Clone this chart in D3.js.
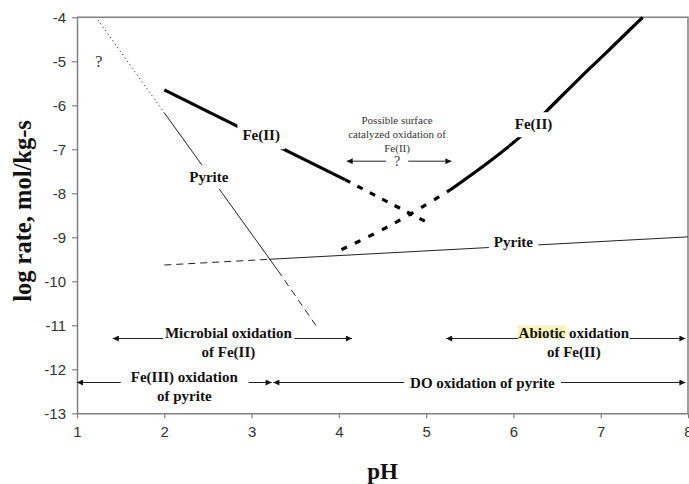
<!DOCTYPE html>
<html>
<head>
<meta charset="utf-8">
<script src="https://cdn.jsdelivr.net/npm/d3@7"></script>
<style>
  body { margin: 0; background: #fff; }
  svg { display: block; font-family: "Liberation Serif", "Times New Roman", serif; }
  .thin { fill: none; stroke: #222; stroke-width: 1; }
  .thick { fill: none; stroke: #000; stroke-width: 3.2; }
  .lbl { font-weight: bold; font-size: 15px; fill: #111; }
  .note { font-size: 11px; fill: #333; }
  .rng { stroke: #222; stroke-width: 1; }
</style>
</head>
<body>
<svg id="chart" width="689" height="484"></svg>
<script>
const xTicks = [1, 2, 3, 4, 5, 6, 7, 8];
const yTicks = [-4, -5, -6, -7, -8, -9, -10, -11, -12, -13];

// pyrite oxidation by Fe(III), low pH branch
const pyriteAcidPH  = [1.24, 2.0, 3.3, 3.75];
const pyriteAcidLog = [-4.06, -6.17, -9.75, -11.04];
// pyrite oxidation by DO
const pyriteDOPH  = [2.0, 3.2, 8.0];
const pyriteDOLog = [-9.63, -9.5, -8.99];
// Fe(II) microbial oxidation
const feMicroPH  = [2.0, 4.07, 5.0];
const feMicroLog = [-5.65, -7.69, -8.65];
// Fe(II) abiotic oxidation
const feAbioPH  = [4.03, 4.6, 5.27, 5.73, 6.07, 6.38, 6.76, 7.07, 7.48];
const feAbioLog = [-9.28, -8.72, -7.93, -7.27, -6.73, -6.13, -5.38, -4.79, -4.0];

// ranges: [from pH, to pH, log rate]
const microbialRange = [1.41, 4.15, -11.3];
const abioticRange   = [5.23, 7.97, -11.3];
const fe3Range       = [1.0, 3.23, -12.3];
const doRange        = [3.25, 7.97, -12.3];
const surfaceRange   = [4.09, 5.29, -7.27];

// label anchors: [pH, log rate]
const pyriteSteepLabel = [2.51, -7.63];
const pyriteFlatLabel  = [6.0, -9.1];
const feLeftLabel      = [3.11, -6.68];
const feRightLabel     = [6.23, -6.43];
const unknownMark      = [1.25, -5.0];

const svg = d3.select('#chart');
const x = d3.scaleLinear().domain([1, 8]).range([77, 688]);
const y = d3.scaleLinear().domain([-13, -4]).range([413.3, 17.3]);

// arrow heads
const defs = svg.append('defs');
defs.append('marker')
    .attr('id', 'arr')
    .attr('viewBox', '0 0 10 10')
    .attr('refX', 10).attr('refY', 5)
    .attr('markerUnits', 'userSpaceOnUse')
    .attr('markerWidth', 7).attr('markerHeight', 6)
    .attr('orient', 'auto-start-reverse')
  .append('path')
    .attr('d', 'M0,0L10,5L0,10Z')
    .attr('fill', '#111');

// axes
svg.append('g')
    .attr('transform', 'translate(0,' + y(-13) + ')')
    .call(d3.axisBottom(x).tickValues(xTicks).tickSize(5).tickSizeOuter(0).tickPadding(8).tickFormat(d => String(d)))
    .call(g => {
        g.select('.domain').attr('stroke', '#808080').attr('stroke-width', 1.5)
        g.selectAll('line').attr('stroke', '#808080').attr('stroke-width', 1.2)
        g.selectAll('text').attr('font-size', 15).attr('fill', '#333').attr('font-family', null)
    })
svg.append('g')
    .attr('transform', 'translate(' + x(1) + ',0)')
    .call(d3.axisLeft(y).tickValues(yTicks).tickSize(5).tickSizeOuter(0).tickPadding(6).tickFormat(d => String(d)))
    .call(g => {
        g.select('.domain').attr('stroke', '#808080').attr('stroke-width', 1.5)
        g.selectAll('line').attr('stroke', '#808080').attr('stroke-width', 1.2)
        g.selectAll('text').attr('font-size', 15).attr('fill', '#333').attr('font-family', null)
    })
// frame top and right
svg.append('path')
    .attr('d', 'M' + x(1) + ',' + y(-4) + 'H' + x(8) + 'V' + y(-13))
    .attr('fill', 'none').attr('stroke', '#808080').attr('stroke-width', 1.5)

svg.append('text')
    .attr('transform', 'translate(31,211) rotate(-90)')
    .attr('text-anchor', 'middle')
    .attr('font-size', 24.5).attr('font-weight', 'bold').attr('fill', '#111')
    .text('log rate, mol/kg-s')
svg.append('text')
    .attr('x', (x(1) + x(8)) / 2).attr('y', 479)
    .attr('text-anchor', 'middle')
    .attr('font-size', 23).attr('font-weight', 'bold').attr('fill', '#111')
    .text('pH')

// curves
const line = d3.line().x(d => x(d[0])).y(d => y(d[1]));
const smooth = d3.line().x(d => x(d[0])).y(d => y(d[1])).curve(d3.curveCatmullRom);

function piece(ph, lv, i0, i1, cls, dash, gen) {
    const pts = d3.zip(ph, lv).slice(i0, i1 + 1);
    svg.append('path')
        .attr('class', cls)
        .attr('d', (gen || line)(pts))
        .attr('stroke-dasharray', dash)
}
piece(pyriteAcidPH, pyriteAcidLog, 0, 1, 'thin', '1.2,3');
piece(pyriteAcidPH, pyriteAcidLog, 1, 2, 'thin', null);
piece(pyriteAcidPH, pyriteAcidLog, 2, 3, 'thin', '7,5');
piece(pyriteDOPH, pyriteDOLog, 0, 1, 'thin', '7,5');
piece(pyriteDOPH, pyriteDOLog, 1, 2, 'thin', null);
piece(feMicroPH, feMicroLog, 0, 1, 'thick', null);
piece(feMicroPH, feMicroLog, 1, 2, 'thick', '6,8');
piece(feAbioPH, feAbioLog, 0, 2, 'thick', '6,9', smooth);
piece(feAbioPH, feAbioLog, 2, feAbioPH.length - 1, 'thick', null, smooth);

// text with a white box behind its first line
function boxed(lines, cx, cy, opts) {
    const g = svg.append('g');
    const lh = opts.lh || 19;
    const t = g.append('text')
        .attr('class', opts.cls || 'lbl')
        .attr('text-anchor', 'middle')
    lines.forEach((s, i) => {
        t.append('tspan').attr('x', cx).attr('y', cy + i * lh).text(s)
    })
    if (opts.pad != null) {
        const first = t.select('tspan').node().getBBox();
        const p = opts.pad, py = opts.padY || 0;
        g.insert('rect', 'text')
            .attr('x', first.x - p).attr('y', first.y - py)
            .attr('width', first.width + 2 * p).attr('height', first.height + 2 * py)
            .attr('fill', '#fff')
    }
    return t;
}

// curve labels
boxed(['Pyrite'], x(pyriteSteepLabel[0]), y(pyriteSteepLabel[1]) + 5, { pad: 3, padY: 4 });
boxed(['Pyrite'], x(pyriteFlatLabel[0]), y(pyriteFlatLabel[1]) + 5, { pad: 5 });
boxed(['Fe(II)'], x(feLeftLabel[0]), y(feLeftLabel[1]) + 5, { pad: 5, padY: 5 });
boxed(['Fe(II)'], x(feRightLabel[0]), y(feRightLabel[1]) + 5, { pad: 4, padY: 4 });

svg.append('text')
    .attr('x', x(unknownMark[0])).attr('y', y(unknownMark[1]) + 6)
    .attr('text-anchor', 'middle')
    .attr('font-size', 16).attr('fill', '#333')
    .text('?')

// range arrows
function range(r) {
    svg.append('line')
        .attr('class', 'rng')
        .attr('x1', x(r[0])).attr('x2', x(r[1]))
        .attr('y1', y(r[2])).attr('y2', y(r[2]))
        .attr('marker-start', 'url(#arr)')
        .attr('marker-end', 'url(#arr)')
}

// surface catalyzed note
const sx = (x(surfaceRange[0]) + x(surfaceRange[1])) / 2 - 2;
const sy = y(surfaceRange[2]);
['Possible surface', 'catalyzed oxidation of', 'Fe(II)'].forEach((s, i) => {
    svg.append('text')
        .attr('class', 'note')
        .attr('x', sx).attr('y', sy - 37 + i * 14)
        .attr('text-anchor', 'middle')
        .text(s)
})
range(surfaceRange);
const qg = svg.append('g');
const q = qg.append('text')
    .attr('x', sx).attr('y', sy + 5)
    .attr('text-anchor', 'middle')
    .attr('font-size', 14).attr('fill', '#333')
    .text('?')
const qb = q.node().getBBox();
qg.insert('rect', 'text')
    .attr('x', qb.x - 8).attr('y', sy - 3).attr('width', qb.width + 16).attr('height', 6)
    .attr('fill', '#fff')

// ranges at the bottom
range(microbialRange);
range(abioticRange);
range(fe3Range);
range(doRange);

boxed(['Microbial oxidation', 'of Fe(II)'],
    (x(microbialRange[0]) + x(microbialRange[1])) / 2 - 4, y(microbialRange[2]) - 1, { pad: 2 });
boxed(['Fe(III) oxidation', 'of pyrite'],
    (x(fe3Range[0]) + x(fe3Range[1])) / 2 + 10, y(fe3Range[2]) - 1, { pad: 10 });
boxed(['DO oxidation of pyrite'],
    (x(doRange[0]) + x(doRange[1])) / 2 + 3, y(doRange[2]) + 5, { pad: 6 });

const ab = boxed(['Abiotic oxidation', 'of Fe(II)'],
    (x(abioticRange[0]) + x(abioticRange[1])) / 2 + 8, y(abioticRange[2]) - 1, { pad: 0 });
// highlight on "Abiotic"
const firstLine = ab.select('tspan').node();
const hx = firstLine.getStartPositionOfChar(0).x;
const hw = firstLine.getSubStringLength(0, 7);
const fb = firstLine.getBBox();
d3.select(ab.node().parentNode).insert('rect', 'text')
    .attr('x', hx - 1).attr('y', fb.y + 1)
    .attr('width', hw + 2).attr('height', fb.height - 3)
    .attr('fill', '#f8f5b4')
</script>
</body>
</html>
